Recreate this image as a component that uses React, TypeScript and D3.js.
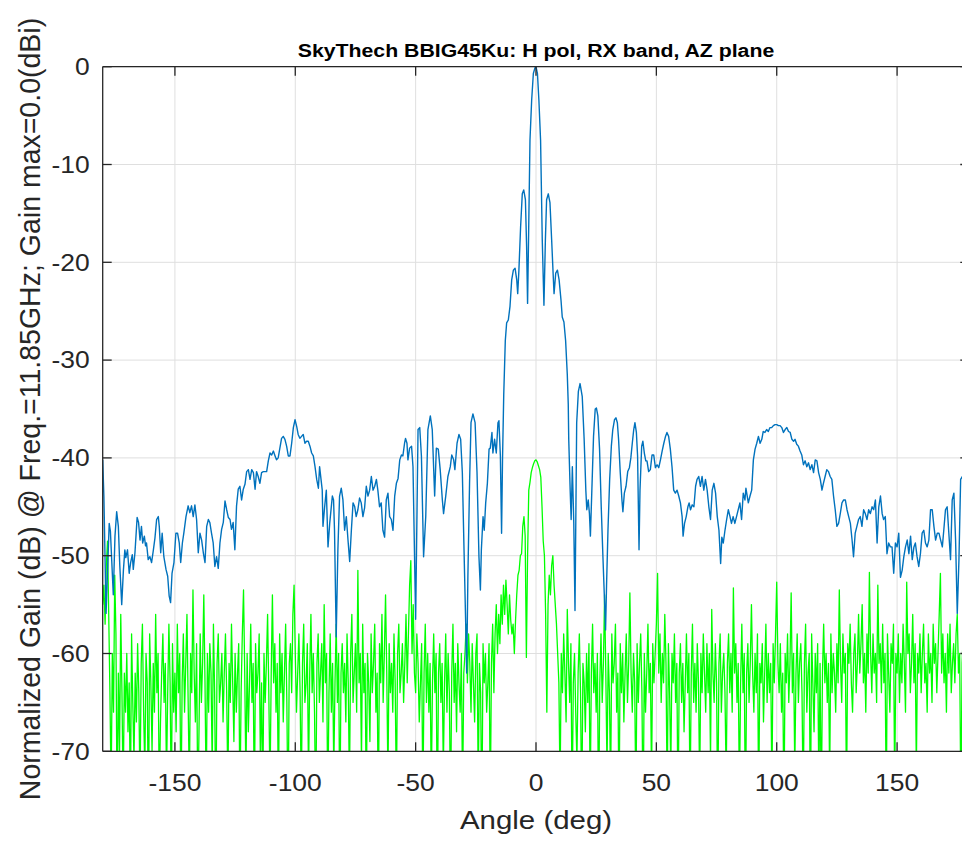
import React from "react";
import * as d3 from "d3";

const titleText = "SkyThech BBIG45Ku: H pol, RX band, AZ plane";
const xLabelText = "Angle (deg)";
const yLabelText = "Normalized Gain (dB) @ Freq.=11.85GHz; Gain max=0.0(dBi)";
const xTickValues = [-150, -100, -50, 0, 50, 100, 150];
const yTickValues = [0, -10, -20, -30, -40, -50, -60, -70];

// Co-polar (blue) pattern: angle (deg) / gain (dB)
const coAngle = [
  -180, -179.5, -178.6, -177.3, -176.8, -175.6, -174.9, -174.2, -173.5, -172.9, -172.1, -171.4, -170.8,
  -170.4, -169.7, -169.0, -168.4, -167.7, -167.3, -166.6, -165.7, -165.1, -164.5, -163.9, -163.4, -162.7,
  -162.2, -161.8, -161.1, -160.4, -159.7, -159.0, -158.3, -157.6, -156.9, -156.5, -155.9, -155.3, -154.6,
  -153.7, -153.0, -152.4, -151.8, -151.2, -150.4, -149.6, -148.9, -148.2, -147.6, -146.9, -146.3, -145.4,
  -144.5, -143.8, -143.1, -142.4, -141.7, -141.0, -140.3, -139.6, -138.9, -138.2, -137.5, -136.8, -136.1,
  -135.5, -134.8, -134.1, -133.4, -132.7, -132.0, -131.3, -130.6, -129.9, -129.2, -128.5, -127.8, -127.1,
  -126.5, -125.8, -125.1, -124.4, -123.7, -123.0, -122.3, -121.6, -120.9, -120.2, -119.5, -118.8, -118.1,
  -117.4, -116.7, -116.1, -115.4, -114.7, -114.0, -113.3, -112.6, -111.9, -111.2, -110.5, -109.8, -109.1,
  -108.4, -107.8, -107.1, -106.4, -105.7, -105.0, -104.3, -103.6, -102.9, -102.2, -101.5, -100.8, -100.1,
  -99.4, -98.8, -98.1, -97.4, -96.7, -96.0, -95.3, -94.6, -93.9, -93.2, -92.5, -91.8, -91.1, -90.4,
  -89.9, -88.8, -88.5, -87.8, -87.1, -86.4, -85.7, -84.6, -84.1, -83.7, -83.0, -82.3, -81.6, -80.9,
  -80.2, -79.5, -78.8, -78.1, -77.4, -76.7, -76.0, -75.3, -74.7, -74.0, -73.3, -72.6, -71.9, -71.2,
  -70.5, -69.8, -69.1, -68.4, -67.7, -67.0, -66.3, -65.7, -65.0, -64.3, -63.6, -62.9, -62.2, -61.5,
  -60.8, -60.1, -59.4, -58.7, -58.0, -57.3, -56.6, -55.9, -55.3, -54.6, -54.2, -53.6, -53.2, -52.5,
  -51.7, -51.1, -50.0, -49.0, -48.3, -47.6, -46.7, -45.8, -44.9, -43.9, -43.1, -42.1, -41.4, -40.6,
  -39.8, -38.9, -38.4, -37.5, -36.6, -35.6, -35.0, -34.2, -33.7, -32.8, -32.0, -31.3, -30.6, -29.9,
  -29.2, -28.8, -28.3, -27.6, -27.0, -26.2, -25.3, -24.5, -23.7, -23.1, -22.7, -22.0, -21.5, -20.9,
  -20.2, -19.5, -19.0, -18.3, -17.9, -17.2, -16.5, -15.8, -15.4, -14.8, -14.3, -13.9, -13.4,
  -12.75, -12.2, -11.5, -10.8, -10.1, -9.4, -8.7, -8.0, -7.6, -7.1, -6.4, -5.7, -5.1, -4.4, -3.9,
  -3.5, -3.1, -2.5, -1.8, -1.1, -0.4, 0, 0.6, 1.2, 1.9, 2.6, 3.3, 3.9, 4.4, 5.1, 5.8, 6.5, 7.1, 7.5,
  8.2, 8.9, 9.6, 10.4, 10.9, 11.6, 12.3, 13.0, 13.4,
  13.6, 14.2, 14.6, 15.1, 15.7, 16.2, 16.9, 17.6, 18.3, 19.2, 20.0, 20.7, 21.1, 21.7, 22.2, 22.6,
  23.2, 23.9, 24.6, 25.1, 25.7, 26.4, 27.1, 27.8, 28.3, 28.9, 29.3, 29.9, 30.6, 31.3, 31.9, 32.6,
  33.2, 33.8, 34.3, 35.0, 35.7, 36.1, 36.7, 37.4, 38.1, 38.8, 39.4, 40.0, 40.6, 41.1, 41.7, 42.2,
  42.8, 43.2, 43.9, 44.4, 45.0, 45.6, 46.1, 46.8, 47.5, 48.2, 48.9, 49.6, 50.3, 51.0, 51.7, 52.4,
  53.1, 53.8, 54.4, 55.1, 55.8, 56.5, 57.2, 57.9, 58.6, 59.3, 60.0, 60.7, 61.1, 61.7, 62.4, 63.1,
  63.6, 64.2, 64.9, 65.6, 66.3, 66.9, 67.6, 68.3, 69.0, 69.7, 70.4, 71.1, 71.8, 72.5, 73.2, 73.9,
  74.6, 75.3, 76.0, 76.7, 77.2, 77.8, 78.5, 79.2, 79.9, 80.6, 81.2, 81.9, 82.6, 83.3,
  84.7, 85.4, 86.1, 86.8, 87.2, 88.2, 88.9, 89.6, 90.3, 91.0, 91.7, 92.4, 93.1, 93.8, 94.4, 95.1,
  95.8, 96.5, 97.2, 97.9, 98.6, 99.3, 100.0, 100.7, 101.4, 102.1, 102.8, 103.5, 104.2, 104.9, 105.6,
  106.3, 107.0, 107.6, 108.3, 109.0, 109.7, 110.4, 111.1, 111.8, 112.5, 113.2, 113.9, 114.6, 115.3,
  116.0, 116.7, 117.4, 118.1, 118.8, 119.4, 120.1, 120.8, 121.5, 122.2, 122.9, 123.6, 124.3, 125.0,
  125.7, 126.4, 127.1, 127.8, 128.5, 129.2, 129.9, 130.6, 131.3, 131.9, 132.6, 133.3, 134.0, 134.7,
  135.4, 136.1, 136.8, 137.5, 138.2, 138.9, 139.6, 140.3, 141.0, 141.7, 142.4, 143.1, 143.8, 144.4,
  145.1, 145.8, 146.5, 147.2, 147.9, 148.6, 149.3, 150.0, 150.7, 151.4, 152.1, 152.8, 153.5, 154.2,
  154.9, 155.6, 156.3, 157.0, 157.6, 158.3, 159.0, 159.7, 160.4, 161.1, 161.8, 162.5, 163.2, 163.9,
  164.6, 165.3, 166.0, 166.7, 167.4, 168.1, 168.8, 169.4, 170.1, 170.8, 171.5, 172.2, 172.9, 173.6,
  174.3, 175.0, 175.7, 176.4, 177.1, 178.0, 179.0, 180.0,
];
const coGain = [
  -40.2, -44.0, -55.9, -46.7, -47.5, -54.0, -48.0, -45.5, -47.0, -51.0, -55.0, -51.5, -49.4,
  -50.2, -49.4, -51.8, -50.7, -49.9, -51.4, -49.7, -46.1, -46.6, -48.4, -47.0, -48.7, -48.0,
  -49.0, -48.7, -50.4, -50.1, -50.7, -49.5, -48.2, -46.3, -46.0, -47.0, -49.7, -47.7, -50.1,
  -51.4, -52.1, -54.1, -54.8, -51.8, -50.7, -47.7, -47.7, -48.7, -50.7, -48.7, -47.7, -46.0,
  -44.9, -45.6, -44.9, -46.0, -44.8, -46.3, -49.7, -47.7, -48.4, -49.7, -50.7, -47.0, -46.3,
  -46.6, -47.7, -48.7, -51.1, -50.1, -51.3, -48.7, -47.3, -46.6, -44.4, -45.3, -46.1, -46.3,
  -47.3, -46.6, -49.4, -44.9, -43.2, -42.9, -44.3, -43.2, -42.7, -41.4, -41.2, -42.2, -41.2,
  -41.5, -43.2, -41.4, -41.9, -42.6, -41.5, -41.4, -41.4, -41.4, -40.3, -39.5, -39.7, -39.3,
  -39.8, -40.2, -40.0, -39.0, -38.0, -37.8, -38.1, -38.8, -39.8, -39.8, -38.5, -36.9, -36.1,
  -36.8, -37.6, -38.0, -37.8, -37.6, -38.5, -38.3, -38.3, -38.8, -39.5, -39.8, -40.9, -42.2, -43.1,
  -40.9, -43.3, -47.0, -45.0, -43.3, -49.1, -46.7, -43.9, -44.3, -47.4, -58.3, -49.4, -43.9, -43.1,
  -44.3, -47.4, -46.0, -48.4, -50.6, -47.4, -44.6, -45.0, -46.0, -45.3, -44.1, -44.6, -46.0, -45.1,
  -42.9, -43.9, -43.3, -41.9, -43.3, -42.9, -42.2, -43.3, -45.0, -44.6, -47.4, -48.1, -44.3, -43.6,
  -46.0, -46.3, -47.4, -43.9, -42.6, -42.1, -40.2, -39.7, -39.8, -38.5, -38.0, -38.5, -40.2, -39.0,
  -38.8, -40.9, -56.5, -37.1, -36.9, -39.8, -50.1, -46.0, -37.1, -35.7, -37.1, -43.9, -39.0, -39.1,
  -41.2, -44.3, -45.7, -43.9, -41.9, -40.9, -39.7, -40.2, -41.2, -38.5, -37.6, -38.1, -41.5, -49.4,
  -57.0, -62.0, -52.2, -42.6, -36.4, -35.5, -36.4, -41.5, -50.1, -53.5, -49.4, -46.0, -47.4, -44.6,
  -42.6, -39.1, -39.0, -37.4, -39.5, -38.1, -39.5, -36.4, -36.2, -39.8, -47.7, -40.0, -33.5,
  -28.0, -26.2, -25.9, -24.5, -21.8, -20.8, -20.6, -21.8, -23.2, -20.8, -16.4, -13.0, -12.6, -13.6, -18.4,
  -24.2, -17.7, -7.5, -3.4, -0.7, -0.1, 0, -0.7, -3.4, -7.5, -17.7, -24.4, -17.7, -13.6, -13.0, -13.9, -17.7, -21.1, -23.2,
  -21.1, -20.8, -21.8, -23.9, -25.6, -26.1, -28.0, -31.5, -34.5,
  -38.1, -43.3, -46.3, -40.9, -46.7, -55.6, -36.4, -33.2, -32.4, -33.7, -38.1, -43.3, -45.3, -44.3, -45.7, -48.0,
  -43.3, -37.8, -35.0, -34.9, -35.7, -39.1, -45.0, -50.1, -53.5, -57.6, -53.1, -47.4, -42.2, -38.8, -37.1, -36.1,
  -35.9, -36.4, -38.1, -41.5, -44.3, -45.5, -43.6, -42.9, -41.4, -41.0, -40.0, -38.5, -37.1, -36.4, -37.4, -39.8,
  -49.4, -43.3, -38.8, -38.3, -39.5, -40.3, -40.3, -41.4, -41.2, -39.7, -39.7, -41.0, -40.7, -41.0, -40.2, -39.3,
  -38.5, -37.8, -37.4, -37.8, -39.1, -40.9, -43.3, -43.6, -43.3, -43.9, -44.6, -46.0, -48.0, -46.7, -46.0, -45.0,
  -44.6, -45.3, -44.8, -45.0, -42.9, -42.2, -41.9, -42.9, -41.9, -43.3, -42.2, -43.3, -45.0, -46.3, -43.3, -42.6,
  -43.6, -46.0, -47.4, -50.8, -48.1, -48.7, -47.4, -46.3, -45.3, -46.0, -46.7, -46.0, -46.7, -46.0,
  -44.6, -46.3, -43.6, -44.3, -43.1, -44.6, -43.9, -43.3, -40.2, -39.1, -38.5, -37.8, -38.5, -38.1, -37.3, -37.4,
  -37.1, -37.3, -36.9, -36.9, -36.7, -36.6, -36.6, -36.7, -36.7, -36.9, -37.4, -37.1, -36.9, -37.3, -37.4,
  -38.1, -38.3, -38.1, -38.6, -38.8, -39.3, -39.7, -40.7, -40.3, -40.9, -40.5, -41.2, -40.7, -41.5,
  -40.2, -40.3, -41.5, -42.2, -43.3, -42.6, -41.9, -41.2, -41.4, -41.9, -42.2, -43.9, -45.3, -47.0,
  -46.7, -45.7, -44.6, -44.3, -44.3, -45.3, -46.0, -46.7, -48.4, -50.1, -47.7, -47.0, -46.3, -46.0,
  -47.0, -45.3, -45.7, -46.3, -45.3, -45.7, -45.0, -45.3, -44.3, -48.7, -45.0, -43.9, -45.7, -46.3,
  -46.0, -49.8, -48.7, -49.1, -49.1, -51.8, -48.7, -49.1, -47.7, -52.2, -51.5, -50.1, -49.1, -48.4,
  -49.8, -48.0, -50.4, -49.1, -48.7, -50.1, -51.1, -49.8, -47.7, -47.4, -48.7, -49.1, -48.4, -45.3,
  -45.3, -47.0, -48.4, -47.7, -47.7, -48.4, -49.1, -47.4, -45.3, -45.0, -47.7, -50.4, -44.3, -43.6,
  -48.4, -55.9, -50.4, -42.2, -41.9, -42.5, -43.5, -44.0,
];

// Cross-polar (green) pattern: gain (dB) every 0.5 deg from -180 to 180
const crossStart = -180;
const crossStep = 0.5;
const crossGain = [
  -55, -53, -57, -51, -48.5, -56, -64, -74, -60, -66, -52, -58, -77, -62, -70, -56, -64, -75, -62, -66,
  -60, -68, -63, -76, -58, -65, -71, -62, -67, -59, -64, -74, -61, -57, -66, -72, -60, -63, -78, -58,
  -63, -70, -61, -66, -56, -64, -60, -75, -67, -62, -58, -65, -61, -73, -64, -57, -63, -76, -59, -66,
  -62, -68, -57, -64, -60, -77, -63, -58, -66, -61, -56, -65, -74, -60, -64, -53.5, -62, -67, -59, -76,
  -68, -58, -65, -61, -54, -63, -75, -60, -66, -59, -62, -72, -57, -64, -78, -61, -58, -65, -63, -60,
  -67, -62, -58, -64, -74, -61, -65, -57, -63, -69, -60, -66, -62, -59, -76, -64, -58, -53.5, -62, -73,
  -60, -68, -63, -57, -65, -61, -77, -59, -64, -62, -58, -71, -63, -75, -60, -65, -61, -56, -64, -74,
  -62, -54, -63, -59, -66, -61, -76, -58, -64, -60, -67, -62, -57, -65, -78, -61, -59, -64, -56, -53,
  -60, -66, -62, -58, -64, -75, -61, -57, -65, -63, -59, -73, -62, -56, -64, -60, -66, -77, -61, -58,
  -65, -62, -59, -67, -55, -63, -60, -76, -64, -58, -66, -61, -72, -63, -57, -65, -60, -78, -62, -59,
  -64, -61, -67, -58, -63, -74, -60, -56, -65, -62, -59, -66, -51.5, -63, -60, -71, -57, -64, -61, -76,
  -60, -63, -69, -58, -64, -61, -57, -66, -62, -77, -59, -63, -56, -65, -60, -54, -62, -73, -59, -64,
  -61, -66, -58, -63, -75, -60, -57, -64, -62, -59, -65, -61, -56, -63, -58, -53, -50.5, -60, -55, -62,
  -64, -58, -61, -67, -63, -59, -76, -62, -57, -65, -60, -66, -61, -74, -63, -58, -64, -60, -78, -62,
  -59, -65, -61, -72, -63, -58, -66, -60, -64, -77, -62, -57, -65, -61, -68, -59, -63, -66, -60, -75,
  -62, -60, -57, -63, -58, -61, -66, -59, -63, -67, -60, -58, -74, -61, -64, -78, -59, -63, -60, -66,
  -63, -59, -76, -61, -57, -64, -58, -55, -60, -56, -59, -54, -57, -53, -56, -52.5, -55, -58, -54, -56.6,
  -58, -57, -60, -56.6, -54, -52, -51.5, -50, -49.8, -47, -46, -48, -60.4, -50, -43.3, -42.5, -41.5, -41, -40.6, -40.3,
  -40.2, -40.4, -40.8, -41.2, -42, -45, -48.5, -50, -56, -66, -55, -52, -54, -51, -50, -53, -55, -57, -60, -63,
  -74, -60, -64, -58, -62, -67, -55.5, -61, -65, -59, -76, -63, -60, -66, -71, -62, -58, -64, -77, -61,
  -63, -68, -60, -65, -59, -75, -62, -57, -64, -61, -66, -60, -78, -63, -58, -65, -61, -54, -62, -72,
  -60, -64, -74, -58, -63, -61, -57, -66, -62, -77, -59, -64, -60, -67, -62, -58, -65, -61, -53.8, -62,
  -66, -60, -63, -76, -59, -65, -61, -58, -64, -78, -60, -66, -62, -57, -64, -61, -73, -59, -63, -60,
  -57, -51.8, -62, -58, -65, -60, -63, -56, -61, -75, -59, -64, -72, -60, -63, -58, -65, -61, -77, -62,
  -59, -65, -61, -68, -63, -58, -64, -60, -76, -62, -57, -65, -61, -66, -59, -63, -74, -60, -64, -58,
  -62, -66, -59, -64, -60, -71, -55.5, -62, -65, -59, -63, -77, -61, -58, -66, -62, -60, -64, -73, -61,
  -58, -64, -60, -66, -53.3, -62, -59, -65, -61, -75, -63, -57, -64, -60, -78, -62, -59, -65, -61, -55,
  -62, -66, -60, -64, -58, -76, -61, -63, -59, -67, -62, -57, -65, -60, -64, -61, -74, -59, -63, -58,
  -52.7, -61, -64, -59, -66, -62, -77, -60, -63, -58, -65, -61, -53.8, -64, -60, -72, -62, -58, -65, -61,
  -59, -64, -76, -61, -57, -66, -62, -60, -78, -58, -63, -68, -60, -64, -59, -74, -61, -77, -62, -57,
  -63, -60, -65, -61, -73, -58, -64, -60, -62, -66, -59, -63, -53.5, -61, -65, -58, -62, -60, -75, -59,
  -61, -57, -63, -66, -60, -58, -64, -61, -56, -62, -59, -55, -63, -60, -66, -58, -62, -51.7, -60, -64,
  -58, -62, -60, -65, -53, -61, -59, -64, -57, -63, -60, -76, -58, -62, -66, -59, -61, -57, -74, -60,
  -62, -58, -65, -60, -63, -57, -61, -66, -52.7, -60, -58, -64, -61, -56, -63, -59, -72, -60, -62, -58,
  -64, -60, -57, -63, -61, -66, -58, -62, -60, -65, -57, -61, -59, -64, -60, -56, -51.8, -62, -58, -63,
  -60, -66, -58, -62, -57, -64, -61, -59, -63, -58, -56, -62, -60, -76, -61, -58, -54, -60, -56, -59,
  -57,
];

const FONT = "'Liberation Sans', Arial, Helvetica, sans-serif";
const SX = 1.15;

export default function App() {
  const x = d3.scaleLinear().domain([-180, 180]).range([102.7, 969.3]);
  const y = d3.scaleLinear().domain([-70, 0]).range([751.3, 66.7]);
  const [x0, x1] = x.range();
  const [yb, yt] = y.range();

  const line = d3
    .line<[number, number]>()
    .x((d) => x(d[0]))
    .y((d) => y(d[1]));

  const coPts: [number, number][] = coAngle.map((a, i) => [a, coGain[i]]);
  const crossPts: [number, number][] = crossGain.map((g, i) => [crossStart + i * crossStep, g]);

  const axisColor = "#262626";
  const gridColor = "#dfdfdf";
  const tickLen = 9;

  return (
    <svg
      width={962}
      height={841}
      style={{ position: "absolute", left: 0, top: 0, background: "#fff" }}
    >
      <defs>
        <clipPath id="plotClip">
          <rect x={x0} y={yt} width={x1 - x0} height={yb - yt} />
        </clipPath>
      </defs>
      <rect x={0} y={0} width={962} height={841} fill="#fff" />

      {/* grid */}
      {xTickValues.map((t) => (
        <line key={"gx" + t} x1={x(t)} x2={x(t)} y1={yt} y2={yb} stroke={gridColor} strokeWidth={1} />
      ))}
      {yTickValues.map((t) => (
        <line key={"gy" + t} x1={x0} x2={x1} y1={y(t)} y2={y(t)} stroke={gridColor} strokeWidth={1} />
      ))}

      {/* data */}
      <g clipPath="url(#plotClip)">
        <path d={line(crossPts) || ""} fill="none" stroke="#00ff00" strokeWidth={1.3} strokeLinejoin="round" />
        <path d={line(coPts) || ""} fill="none" stroke="#0072bd" strokeWidth={1.4} strokeLinejoin="round" />
      </g>

      {/* axes box */}
      <g stroke={axisColor} strokeWidth={1.3} fill="none">
        <line x1={x0} x2={x1} y1={yb} y2={yb} />
        <line x1={x0} x2={x1} y1={yt} y2={yt} />
        <line x1={x0} x2={x0} y1={yt} y2={yb} />
        <line x1={x1} x2={x1} y1={yt} y2={yb} />
        {xTickValues.map((t) => (
          <g key={"tx" + t}>
            <line x1={x(t)} x2={x(t)} y1={yb} y2={yb - tickLen} />
            <line x1={x(t)} x2={x(t)} y1={yt} y2={yt + tickLen} />
          </g>
        ))}
        {yTickValues.map((t) => (
          <g key={"ty" + t}>
            <line x1={x0} x2={x0 + tickLen} y1={y(t)} y2={y(t)} />
            <line x1={x1} x2={x1 - tickLen} y1={y(t)} y2={y(t)} />
          </g>
        ))}
      </g>

      {/* tick labels */}
      <g fontFamily={FONT} fontSize={23} fill={axisColor}>
        {xTickValues.map((t) => (
          <text key={"lx" + t} transform={`translate(${x(t)},${yb + 40}) scale(${SX},1)`} textAnchor="middle">
            {String(t)}
          </text>
        ))}
        {yTickValues.map((t) => (
          <text key={"ly" + t} transform={`translate(${x0 - 13},${y(t) + 8.3}) scale(${SX},1)`} textAnchor="end">
            {String(t)}
          </text>
        ))}
      </g>

      {/* labels */}
      <text
        transform={`translate(${(x0 + x1) / 2},56.5) scale(1.12,1)`}
        textAnchor="middle"
        fontFamily={FONT}
        fontWeight="bold"
        fontSize={19}
        fill="#000"
      >
        {titleText}
      </text>
      <text
        transform={`translate(${(x0 + x1) / 2},829) scale(${SX},1)`}
        textAnchor="middle"
        fontFamily={FONT}
        fontSize={25.6}
        fill={axisColor}
      >
        {xLabelText}
      </text>
      <text
        transform={`translate(40,${(yt + yb) / 2}) scale(1.05,1) rotate(-90)`}
        textAnchor="middle"
        fontFamily={FONT}
        fontSize={28.5}
        fill={axisColor}
      >
        {yLabelText}
      </text>
    </svg>
  );
}
